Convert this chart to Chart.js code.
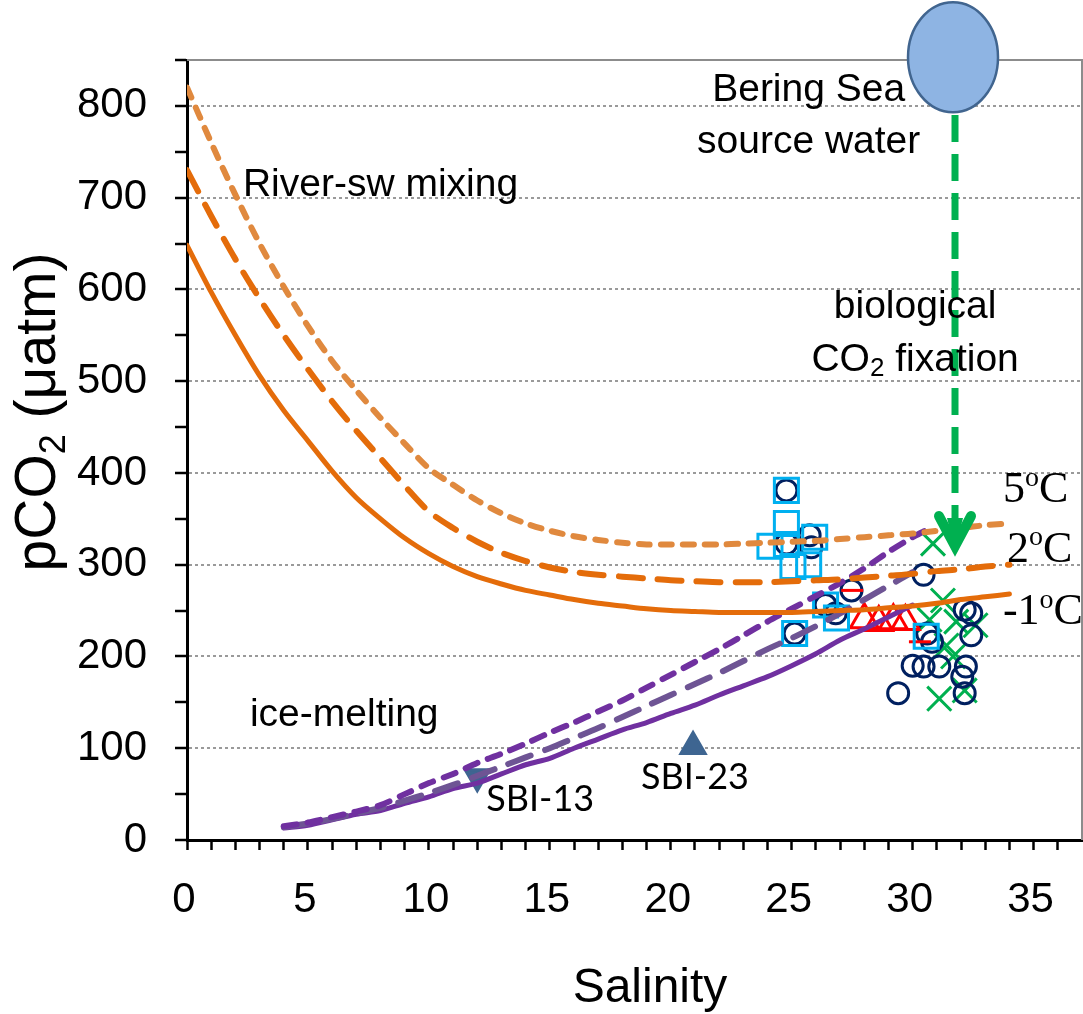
<!DOCTYPE html>
<html>
<head>
<meta charset="utf-8">
<script src="https://cdn.jsdelivr.net/npm/chart.js@4.4.1/dist/chart.umd.min.js"></script>
<style>
  html, body { margin: 0; padding: 0; background: #fff; overflow: hidden; }
  #wrap { width: 1083px; height: 1014px; }
  canvas { display: block; }
</style>
</head>
<body>
<div id="wrap"><canvas id="chart"></canvas></div>
<script>
// River water / seawater mixing curves (pCO2 vs salinity) at three temperatures
var riverSal = [0,1,2,3,4,5,6,7,8,9,10,11,12,13,14,15,16,17,18,19,20,21,22,23,24,25,26,27,28,29,30,31,32,33,34];
var river5C  = [820,760,703,650,603,560,522,490,460,432,405,387,370,356,345,337,331,327,324,322,322,322,322,323,324,325,326,328,330,332,334,337,340,343,345];
var river2C  = [730,680,633,590,550,513,478,446,416,386,358,340,325,313,304,297,292,289,287,285,283,282,281,281,281,282,283,284,286,288,290,293,295,298,300];
var riverM1C = [648,597,550,506,468,435,402,373,350,329,312,298,287,279,272,267,262,258,255,252,250,249,248,248,248,248,249,250,251,253,255,258,262,265,268];

// Ice-melt mixing curves
var iceSal      = [4,5,6,7,8,9,10,11,12,13,14,15,16,17,18,19,20,21,22,23,24,25,26,27,28,29,30];
var iceShortSal = [4,5,6,7,8,9,10,11,12,13,14,15,16,17,18,19,20,21,22,23,24,25,26,27,28,29,30,30.5];
var iceShort    = [15,19,25,31,38,50,62,72,84,94,105,117,128,140,152,166,180,194,208,223,238,252,266,280,296,314,330,337];
var iceLong     = [14,18,23,29,35,43,51,60,70,80,90,100,111,122,134,146,158,170,182,195,208,220,233,247,262,277,292];
var iceSolid    = [13,16,22,28,32,40,47,56,62,72,82,89,100,110,120,128,138,147,158,168,178,190,203,218,230,243,256];

// Observations [salinity, pCO2]
var squarePts = [[24.78,381],[24.78,345],[24.1,320],[24.78,322],[25.05,298],[25.7,300],[25.95,330],[26.4,256],[26.85,242],[25.12,225],[30.56,222]];
var circlePts = [[24.78,381],[24.78,323],[25.74,332],[25.81,319],[26.4,256],[26.82,247],[25.12,225],[27.47,272],[30.45,289],
                 [30.6,225],[30.8,216],[32.15,251],[32.42,247],[32.42,223],[30.0,190],[30.45,189],[31.1,189],[32.2,189],
                 [32.05,178],[32.15,160],[29.4,160]];
var crossPts  = [[30.84,323],[31.25,261],[30.7,240],[31.8,238],[32.6,234],[31.4,212],[31.67,200],[31.1,154],[32.15,163]];
var trianglePts = [[28.0,240],[28.6,237],[29.2,239],[29.7,238]];
var dashPts   = [[27.5,272],[30.3,216]];
var sbi13 = [[12.0,69]];
var sbi23 = [[20.92,102]];

// x tick labels
var salLabels = [0, 5, 10, 15, 20, 25, 30, 35];

// Bering Sea source water and the biological drawdown arrow
var sourceSal = 31.75;
var sourcePco2 = 853;
var arrowTop = 790;
var arrowTip = 316;

function xy(xs, ys) {
  return xs.map(function (x, i) { return { x: x, y: ys[i] }; });
}
function pts(list) {
  return list.map(function (p) { return { x: p[0], y: p[1] }; });
}
function curve(data, color, dash, width) {
  return { type: 'line', data: data, borderColor: color, borderWidth: width, borderDash: dash,
           borderCapStyle: 'round', pointRadius: 0, fill: false, tension: 0.3 };
}
function marks(data, style, color, radius, fillColor, rot) {
  return { type: 'scatter', data: data, pointStyle: style, pointRadius: radius, pointBorderColor: color,
           pointBackgroundColor: fillColor || 'rgba(0,0,0,0)', pointBorderWidth: 3, pointRotation: rot || 0,
           showLine: false };
}

// draws text pieces (with sub/superscripts) centred or left aligned
function richText(ctx, parts, x, y, align) {
  var total = 0;
  parts.forEach(function (p) { ctx.font = p.font; total += ctx.measureText(p.t).width; });
  var cx = align === 'left' ? x : x - total / 2;
  parts.forEach(function (p) {
    ctx.font = p.font;
    ctx.fillText(p.t, cx, y + (p.dy || 0));
    cx += ctx.measureText(p.t).width;
  });
}

var annotate = {
  id: 'annotate',
  afterDraw: function (chart) {
    var ctx = chart.ctx, a = chart.chartArea;
    var sx = chart.scales.x, sy = chart.scales.y;
    function px(v) { return sx.getPixelForValue(v); }
    function py(v) { return sy.getPixelForValue(v); }
    ctx.save();

    // frame (top and right)
    ctx.strokeStyle = '#8c8c8c';
    ctx.lineWidth = 2;
    ctx.beginPath();
    ctx.moveTo(a.left, a.top);
    ctx.lineTo(a.right, a.top);
    ctx.lineTo(a.right, a.bottom);
    ctx.stroke();

    // x tick labels
    ctx.fillStyle = '#000';
    ctx.textAlign = 'left';
    ctx.textBaseline = 'middle';
    salLabels.forEach(function (v) {
      richText(ctx, [{ t: String(v), font: '42px "Liberation Sans", Arial, sans-serif' }], px(v) - 3, a.bottom + 60);
    });

    // arrow
    var ax = px(sourceSal), tipY = py(arrowTip);
    ctx.strokeStyle = '#00B050';
    ctx.fillStyle = '#00B050';
    ctx.lineWidth = 7;
    ctx.setLineDash([27, 12]);
    ctx.beginPath();
    ctx.moveTo(ax, py(arrowTop));
    ctx.lineTo(ax, tipY - 14);
    ctx.stroke();
    ctx.setLineDash([]);
    ctx.lineWidth = 10;
    ctx.lineCap = 'round';
    ctx.lineJoin = 'miter';
    ctx.beginPath();
    ctx.moveTo(ax - 16, tipY - 34);
    ctx.lineTo(ax, tipY - 4);
    ctx.lineTo(ax + 16, tipY - 34);
    ctx.stroke();
    ctx.beginPath();
    ctx.moveTo(ax - 8, tipY - 32);
    ctx.lineTo(ax, tipY);
    ctx.lineTo(ax + 8, tipY - 32);
    ctx.closePath();
    ctx.fill();

    // source water ellipse
    ctx.beginPath();
    ctx.ellipse(px(sourceSal) - 2, py(sourcePco2), 45, 55, 0, 0, Math.PI * 2);
    ctx.fillStyle = '#8EB4E3';
    ctx.fill();
    ctx.lineWidth = 2.5;
    ctx.strokeStyle = '#41658F';
    ctx.stroke();

    // text labels
    ctx.fillStyle = '#000';
    ctx.textBaseline = 'middle';
    var sans = '39px "Liberation Sans", Arial, sans-serif';
    var sansSub = '26px "Liberation Sans", Arial, sans-serif';
    richText(ctx, [{ t: 'Bering Sea', font: sans }], px(25.7), py(817));
    richText(ctx, [{ t: 'source water', font: sans }], px(25.7), py(760));
    richText(ctx, [{ t: 'River-sw mixing', font: sans }], px(8.0), py(714));
    richText(ctx, [{ t: 'biological', font: sans }], px(30.1), py(581));
    richText(ctx, [{ t: 'CO', font: sans }, { t: '2', font: sansSub, dy: 9 }, { t: ' fixation', font: sans }], px(30.1), py(523));
    richText(ctx, [{ t: 'ice-melting', font: sans }], px(6.5), py(136));

    var lato = '36px Lato, "Open Sans", sans-serif';
    richText(ctx, [{ t: 'SBI-13', font: lato }], px(14.6), py(44));
    richText(ctx, [{ t: 'SBI-23', font: lato }], px(21.0), py(68));

    var serif = '44px "Liberation Serif", "Times New Roman", serif';
    var serifSup = '28px "Liberation Serif", "Times New Roman", serif';
    richText(ctx, [{ t: '5', font: serif }, { t: 'o', font: serifSup, dy: -12 }, { t: 'C', font: serif }], px(33.73), py(381), 'left');
    richText(ctx, [{ t: '2', font: serif }, { t: 'o', font: serifSup, dy: -12 }, { t: 'C', font: serif }], px(33.9), py(316), 'left');
    richText(ctx, [{ t: '-1', font: serif }, { t: 'o', font: serifSup, dy: -12 }, { t: 'C', font: serif }], px(33.73), py(248), 'left');

    // axis titles
    ctx.textBaseline = 'alphabetic';
    richText(ctx, [{ t: 'Salinity', font: '48px "Liberation Sans", Arial, sans-serif' }], 650, 1002);
    ctx.translate(55, 412);
    ctx.rotate(-Math.PI / 2);
    var big = '57px "Liberation Sans", Arial, sans-serif';
    var bigSub = '36px "Liberation Sans", Arial, sans-serif';
    richText(ctx, [{ t: 'pCO', font: big }, { t: '2', font: bigSub, dy: 10 }, { t: ' (\u03bcatm)', font: big }], 0, 0);
    ctx.restore();
  }
};

var tickFont = { family: '"Liberation Sans", Arial, sans-serif', size: 42 };

new Chart(document.getElementById('chart'), {
  type: 'scatter',
  data: {
    datasets: [
      curve(xy(riverSal, river5C), '#E0893E', [11, 11], 6),
      curve(xy(riverSal, river2C), '#E46C0A', [24, 15], 6),
      curve(xy(riverSal, riverM1C), '#E46C0A', [], 5),
      curve(xy(iceShortSal, iceShort), '#7030A0', [13, 11], 6),
      curve(xy(iceSal, iceLong), '#6E5494', [24, 15], 6),
      curve(xy(iceSal, iceSolid), '#7030A0', [], 5),
      marks(pts(squarePts), 'rect', '#00B0F0', 17),
      marks(pts(trianglePts), 'triangle', '#FF0000', 16),
      marks(pts(dashPts), 'line', '#FF0000', 11),
      marks(pts(circlePts), 'circle', '#002060', 10.5),
      marks(pts(crossPts), 'crossRot', '#00B050', 17),
      marks(pts(sbi13), 'triangle', '#3E6591', 14, '#3E6591', 180),
      marks(pts(sbi23), 'triangle', '#3E6591', 14, '#3E6591', 0)
    ]
  },
  options: {
    responsive: true,
    maintainAspectRatio: false,
    animation: false,
    layout: { autoPadding: false, padding: { top: 60, right: 1, left: 0, bottom: 0 } },
    plugins: { legend: { display: false }, tooltip: { enabled: false } },
    scales: {
      x: {
        type: 'linear', min: 0, max: 37,
        afterFit: function (s) { s.height = 174; },
        border: { color: '#000', width: 3 },
        grid: {
          drawOnChartArea: false, tickLength: 10, tickWidth: 2.5,
          tickColor: function (c) { return c.tick && c.tick.value === 37 ? 'rgba(0,0,0,0)' : '#000'; }
        },
        ticks: { stepSize: 1, autoSkip: false, maxRotation: 0, display: false }
      },
      y: {
        type: 'linear', min: 0, max: 850,
        afterFit: function (s) { s.width = 187; s.paddingTop = 0; s.paddingBottom = 0; },
        border: { color: '#000', width: 3, dash: [3, 3] },
        grid: {
          lineWidth: 2, tickLength: 12, tickWidth: 2.5, tickColor: '#000',
          color: function (c) {
            var v = c.tick ? c.tick.value : 0;
            return v % 100 === 0 && v > 0 && v < 850 ? '#9a9a9a' : 'rgba(0,0,0,0)';
          }
        },
        ticks: {
          stepSize: 50, autoSkip: false, padding: 28, color: '#000', font: tickFont,
          callback: function (v) { return v % 100 === 0 ? v : ''; }
        }
      }
    }
  },
  plugins: [annotate]
});
</script>
</body>
</html>
